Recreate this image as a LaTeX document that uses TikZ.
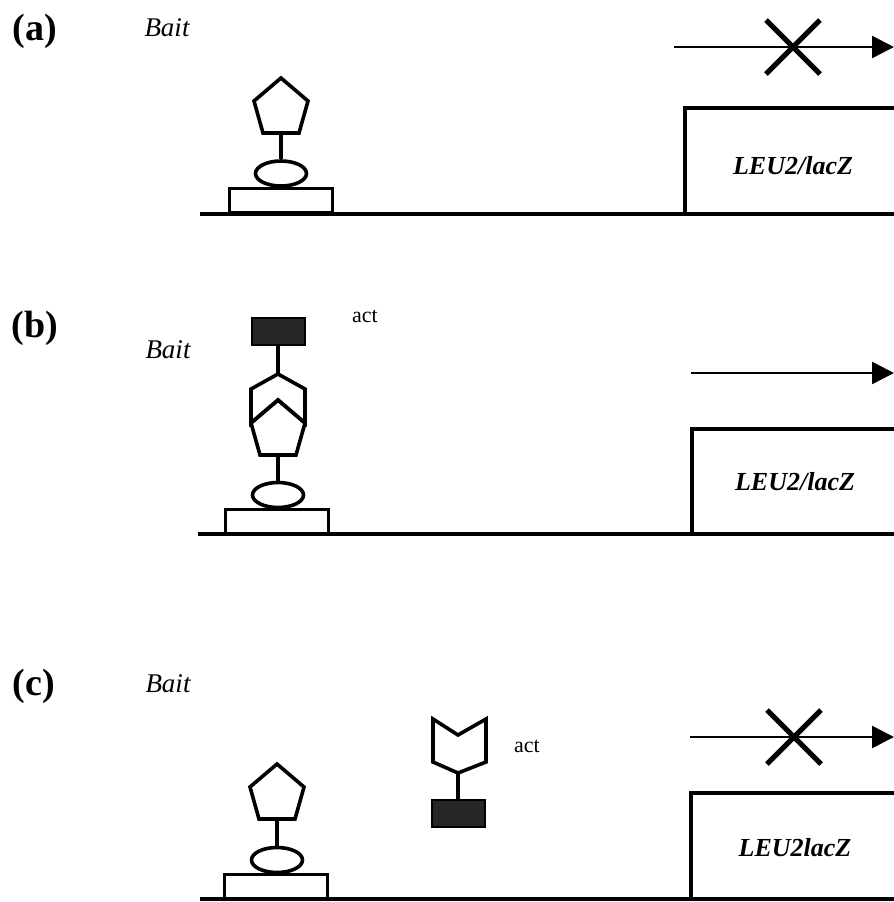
\documentclass[tikz,border=0pt]{standalone}
\usepackage{fontspec}
\setmainfont{Liberation Serif}
\usetikzlibrary{arrows.meta,shapes.geometric}
\tikzset{>={Triangle[length=11pt,width=11pt]}}
\colorlet{actgray}{black!85}
\tikzset{
  part/.style={line width=1.8pt,line join=miter},
  dna/.style={line width=1.6pt},
  dnabox/.style={draw,line width=1.5pt,rectangle,inner sep=0pt,minimum width=51.5pt,minimum height=12pt},
  bind/.style={draw,line width=1.8pt,ellipse,inner sep=0pt,minimum width=25.5pt,minimum height=12.5pt},
  actbox/.style={draw,fill=actgray,line width=1pt,inner sep=0pt,minimum width=26.5pt,minimum height=13.5pt},
  panel/.style={font=\fontsize{19}{22}\selectfont\bfseries},
  bait/.style={font=\fontsize{13.5}{16}\selectfont\itshape},
  gene/.style={font=\fontsize{13}{16}\selectfont\bfseries\itshape},
  actlabel/.style={font=\fontsize{11}{13}\selectfont},
}

\begin{document}
\begin{tikzpicture}[x=0.5pt,y=-0.5pt]

        \def\pent#1{\draw[part] (#1) -- ++(-27,23) -- ++(9,32) -- ++(36,0) -- ++(9,-32) -- cycle;}
        \def\cross#1{\draw[line width=2.6pt] (#1)++(-27,-27) -- ++(54,54) (#1)++(27,-27) -- ++(-54,54);}

        \useasboundingbox (0,0) rectangle (894,902);

        % PANEL (a)
        \coordinate (Pa) at (281,78); % pentagon top
        \coordinate (Qa) at (281,133); % pentagon bottom
        \coordinate (Xa) at (793,47); % cross
        \node[panel] (La) at (35,31) {(a)};
        \node[bait] (Ba) at (167,28) {Bait};
        \node[dnabox] (Oa) at (281,200.5) {};
        \node[bind] (Ea) at (281,173.5) {};
        \pent{Pa}
        \draw[part] (Qa) -- (Ea.north);
        \draw[dna] (200,214) -- (894,214);
        \draw[dna] (685,214) |- (894,108);
        \node[gene] (Ga) at (793,166) {LEU2/lacZ};
        \draw[->,line width=1.2pt] (674,47) -- (894,47);
        \cross{Xa}

        % PANEL (b)
        \coordinate (Pb) at (278,400); % pentagon top = notch
        \coordinate (Qb) at (278,455);
        \coordinate (Rb) at (278,374); % receptor top
        \node[panel] (Lb) at (35,328) {(b)};
        \node[bait] (Bb) at (168,350) {Bait};
        \node[actlabel] (Cb) at (365,316) {act};
        \node[actbox] (Ab) at (278,331) {};
        \node[dnabox] (Ob) at (277,521) {};
        \node[bind] (Eb) at (278,495) {};
        \draw[part] (Rb) -- ++(-27,15) -- ++(0,34) -- (Pb) -- ++(27,23) -- ++(0,-34) -- cycle;
        \pent{Pb}
        \draw[part] (Ab.south) -- (Rb);
        \draw[part] (Qb) -- (Eb.north);
        \draw[dna] (198,534) -- (894,534);
        \draw[dna] (692,534) |- (894,429);
        \node[gene] (Gb) at (795,482) {LEU2/lacZ};
        \draw[->,line width=1.2pt] (691,373) -- (894,373);

        % PANEL (c)
        \coordinate (Pc) at (277,764);
        \coordinate (Qc) at (277,819);
        \coordinate (Rc) at (458,773); % receptor bottom
        \coordinate (Xc) at (794,737);
        \node[panel] (Lc) at (34,686) {(c)};
        \node[bait] (Bc) at (168,684) {Bait};
        \node[actlabel] (Cc) at (527,746) {act};
        \node[actbox] (Ac) at (458,813.5) {};
        \node[dnabox] (Oc) at (276,886) {};
        \node[bind] (Ec) at (277,860) {};
        \pent{Pc}
        \draw[part] (Qc) -- (Ec.north);
        \draw[part] (Rc) -- ++(-25,-11) -- ++(0,-43) -- ++(25,16) -- ++(28,-16) -- ++(0,43) -- cycle;
        \draw[part] (Rc) -- (Ac.north);
        \draw[dna] (200,899) -- (894,899);
        \draw[dna] (691,899) |- (894,793);
        \node[gene] (Gc) at (795,848) {LEU2lacZ};
        \draw[->,line width=1.2pt] (690,737) -- (894,737);
        \cross{Xc}

\end{tikzpicture}
\end{document}
